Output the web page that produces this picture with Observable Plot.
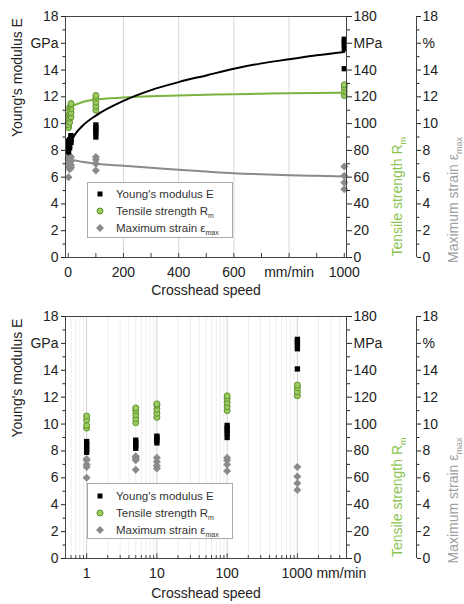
<!DOCTYPE html>
<html>
<head>
<meta charset="utf-8">
<script src="https://cdn.jsdelivr.net/npm/d3@7"></script>
<script src="https://cdn.jsdelivr.net/npm/@observablehq/plot@0.6"></script>
<style>
  html, body { margin: 0; padding: 0; background: #fff; }
  #wrap { position: relative; width: 464px; height: 604px; font-family: "Liberation Sans", Arial, sans-serif; }
  .legend { position: absolute; left: 87px; width: 146px; height: 56px; border: 1px solid #aaa; background: #fff; box-sizing: border-box; font-size: 11.5px; color: #333; }
  .legend .row { position: absolute; left: 0; height: 14px; line-height: 14px; white-space: nowrap; }
  .legend svg { position: absolute; left: 7px; top: 0; }
  .legend span.t { position: absolute; left: 28px; top: 0; }
  .legend sub { font-size: 7px; }
</style>
</head>
<body>
<div id="wrap"></div>
<script>
// ---- data ----
const speeds = [1, 5, 10, 100, 1000]; // mm/min
const modulusE = [ // GPa
  [7.9, 8.1, 8.3, 8.5, 8.7],
  [8.2, 8.4, 8.6, 8.8],
  [8.6, 8.8, 9.0, 9.1],
  [9.0, 9.3, 9.5, 9.7, 9.9],
  [14.1, 15.6, 15.9, 16.1, 16.3]
];
const tensileR = [ // MPa
  [97, 99, 103, 106],
  [101, 104, 107, 110, 112],
  [105, 108, 111, 114, 115],
  [110, 113, 116, 119, 121],
  [121, 124, 127, 129]
];
const strainMax = [ // %
  [6.0, 6.8, 7.0, 7.3, 7.4],
  [6.6, 7.3, 7.4, 7.5, 7.6],
  [6.7, 6.9, 7.2, 7.5],
  [6.5, 7.0, 7.3, 7.5],
  [5.1, 5.6, 6.1, 6.8]
];
// fitted curves
const fitSpeed   = [0, 10, 25, 50, 100, 200, 300, 400, 500, 600, 700, 800, 900, 1000];
const fitE       = [7.7, 8.6, 9.2, 9.8, 10.6, 11.7, 12.5, 13.1, 13.6, 14.1, 14.5, 14.8, 15.1, 15.35];
const fitR       = [109, 112, 114, 116, 118, 119.5, 120.5, 121, 121.5, 122, 122.3, 122.6, 122.8, 123];
const fitStrain  = [7.4, 7.3, 7.25, 7.15, 7.0, 6.85, 6.7, 6.55, 6.42, 6.3, 6.22, 6.15, 6.1, 6.05];
const leftTicks  = ["0", "2", "4", "6", "8", "10", "12", "14", "GPa", "18"];
const midTicks   = ["0", "20", "40", "60", "80", "100", "120", "140", "MPa", "180"];
const rightTicks = ["0", "2", "4", "6", "8", "10", "12", "14", "%", "18"];

// ---- tables ----
const rowsOf = (arr) => speeds.flatMap((s, i) => arr[i].map(v => ({speed: s, value: v})));
const E = rowsOf(modulusE), R = rowsOf(tensileR), S = rowsOf(strainMax);
const fit = fitSpeed.map((s, i) => ({speed: s, E: fitE[i], R: fitR[i], S: fitStrain[i]}));

const GREEN = "#7ab43f", GREEN_FILL = "#9ccc5e", GREEN_STROKE = "#5f9030", GREEN_TXT = "#8cc452";
const GREY = "#8a8a8a", GREY_TXT = "#a0a0a0", INK = "#222";
const major = d3.range(0, 19, 2), minor = d3.range(1, 19, 2);

function yAxes(xmax) {
  return [
    Plot.axisY(major, {anchor: "left", tickSize: 4, tickPadding: 3, tickFormat: d => leftTicks[major.indexOf(d)], fontSize: 14, fill: INK, label: null}),
    Plot.axisY(minor, {anchor: "left", tickSize: 2.5, tickFormat: () => "", label: null}),
    Plot.axisY(major, {anchor: "right", tickSize: 5, tickPadding: 2, tickFormat: d => midTicks[major.indexOf(d)], fontSize: 14, fill: INK, label: null}),
    Plot.axisY(minor, {anchor: "right", tickSize: 3, tickFormat: () => "", label: null}),
    Plot.axisY(major, {anchor: "right", dx: 70, tickSize: 4, tickPadding: 2, tickFormat: d => rightTicks[major.indexOf(d)], fontSize: 14, fill: INK, label: null}),
    Plot.axisY(minor, {anchor: "right", dx: 70, tickSize: 2.5, tickFormat: () => "", label: null}),
    Plot.ruleX([xmax], {dx: 70, stroke: "#444"}),
    Plot.text(["Young's modulus E"], {frameAnchor: "left", rotate: -90, dx: -48, fontSize: 14, fill: INK}),
    Plot.text(["Tensile strength R_m"], {frameAnchor: "right", rotate: -90, dx: 51, fontSize: 14, fill: GREEN_TXT}),
    Plot.text(["Maximum strain ε_max"], {frameAnchor: "right", rotate: -90, dx: 107, fontSize: 14, fill: GREY_TXT})
  ];
}
function dots() {
  return [
    Plot.dot(S, {x: "speed", y: "value", symbol: "diamond2", r: 3.6, fill: GREY}),
    Plot.dot(R, {x: "speed", y: d => d.value / 10, symbol: "circle", r: 3, fill: GREEN_FILL, stroke: GREEN_STROKE, strokeWidth: 1}),
    Plot.dot(E, {x: "speed", y: "value", symbol: "square", r: 3, fill: "#000"})
  ];
}

const common = {
  width: 464, height: 302, marginLeft: 65, marginRight: 118,
  y: {domain: [0, 18]},
  style: {fontFamily: "'Liberation Sans', Arial, sans-serif", fontSize: "14px", color: INK, background: "transparent"}
};

const plotTop = Plot.plot({
  ...common, marginTop: 16, marginBottom: 45,
  x: {domain: [-10, 1008]},
  marks: [
    Plot.ruleX([200, 400, 600, 800], {stroke: "#d8d8d8"}),
    Plot.ruleX(d3.range(0, 1001, 100), {y1: 0, y2: 0.3, stroke: "#444"}),
    Plot.axisX([0, 200, 400, 600, 800, 1000], {tickSize: 0, tickPadding: 10, tickFormat: d => d === 800 ? "mm/min" : String(d), fontSize: 14, fill: INK, label: null}),
    Plot.text(["Crosshead speed"], {frameAnchor: "bottom", dy: 37, fontSize: 14, fill: INK}),
    Plot.line(fit, {x: "speed", y: "S", stroke: GREY, strokeWidth: 2, curve: "monotone-x"}),
    ...dots(),
    Plot.line(fit, {x: "speed", y: d => d.R / 10, stroke: GREEN, strokeWidth: 2, curve: "monotone-x"}),
    Plot.line(fit, {x: "speed", y: "E", stroke: "#000", strokeWidth: 2, curve: "monotone-x"}),
    ...yAxes(1008),
    Plot.frame({stroke: "#444"})
  ]
});

const minorLog = [1, 10, 100, 1000].flatMap(p => d3.range(2, 10).map(k => k * p)).filter(v => v <= 5000);
const minorLogAll = minorLog.concat([0.6, 0.7, 0.8, 0.9]);
const plotBottom = Plot.plot({
  ...common, marginTop: 14, marginBottom: 46,
  x: {type: "log", domain: [0.5, 5000]},
  marks: [
    Plot.ruleX(minorLogAll, {stroke: "#eeeeee"}),
    Plot.ruleX([1, 10, 100, 1000], {stroke: "#d0d0d0"}),
    Plot.ruleX(minorLogAll, {y1: 0, y2: 0.22, stroke: "#444"}),
    Plot.ruleX([1, 10, 100, 1000], {y1: 0, y2: 0.35, stroke: "#444"}),
    Plot.axisX([1, 10, 100], {tickSize: 0, tickPadding: 10, tickFormat: d => String(d), fontSize: 14, fill: INK, label: null}),
    Plot.text(["1000 mm/min"], {x: [1000], frameAnchor: "bottom", lineAnchor: "top", dy: 10, dx: -16, textAnchor: "start", fontSize: 14, fill: INK}),
    Plot.text(["Crosshead speed"], {frameAnchor: "bottom", dy: 39, fontSize: 14, fill: INK}),
    ...dots(),
    ...yAxes(5000),
    Plot.frame({stroke: "#444"})
  ]
});

// subscript handling for "X_sub" labels
function subify(svg) {
  svg.querySelectorAll("text").forEach(t => {
    const s = t.textContent;
    const m = s.match(/^(.*)_(\w+)$/);
    if (!m || t.children.length) return;
    t.textContent = m[1];
    const ts = document.createElementNS("http://www.w3.org/2000/svg", "tspan");
    ts.setAttribute("font-size", "9");
    ts.setAttribute("dy", "4");
    ts.textContent = m[2];
    t.appendChild(ts);
  });
}
subify(plotTop); subify(plotBottom);

const wrap = document.getElementById("wrap");
plotTop.style.position = "absolute"; plotTop.style.left = "0"; plotTop.style.top = "0";
plotBottom.style.position = "absolute"; plotBottom.style.left = "0"; plotBottom.style.top = "302px";
wrap.appendChild(plotTop); wrap.appendChild(plotBottom);

// legends
const legendItems = [
  {label: "Young's modulus E", sym: '<rect x="2.5" y="2.5" width="5" height="5" fill="#000"/>'},
  {label: "Tensile strength R<sub>m</sub>", sym: `<circle cx="5" cy="5" r="3" fill="${GREEN_FILL}" stroke="${GREEN_STROKE}"/>`},
  {label: "Maximum strain ε<sub>max</sub>", sym: `<path d="M5 1 L9 5 L5 9 L1 5 Z" fill="${GREY}"/>`}
];
function addLegend(topPx, rowTops) {
  const box = document.createElement("div");
  box.className = "legend";
  box.style.top = topPx + "px";
  legendItems.forEach((it, i) => {
    const row = document.createElement("div");
    row.className = "row";
    row.style.top = rowTops[i] + "px";
    row.innerHTML = `<svg width="10" height="10" style="top:2px">${it.sym}</svg><span class="t">${it.label}</span>`;
    box.appendChild(row);
  });
  wrap.appendChild(box);
}
addLegend(182, [4, 21, 38]);
addLegend(483, [5, 22, 39]);
</script>
</body>
</html>
